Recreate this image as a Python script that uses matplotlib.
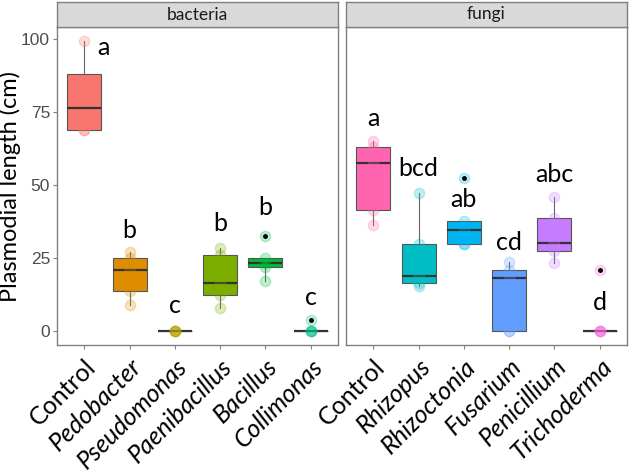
import numpy as np
import matplotlib.pyplot as plt

# values (cm)
bact_names = ["Control", "Pedobacter", "Pseudomonas", "Paenibacillus", "Bacillus", "Collimonas"]
bact_values = [
    [68.7, 68.7, 84.0, 99.0],
    [8.9, 13.7, 20.8, 24.9, 27.0],
    [0, 0, 0, 0, 0],
    [7.8, 12.2, 16.4, 25.7, 28.3],
    [17.1, 21.6, 23.0, 25.0, 32.5],
    [0, 0, 0, 0, 3.6],
]
bact_letters = ["a", "b", "c", "b", "b", "c"]
bact_letter_y = [97, 34.2, 8.6, 36.6, 42.0, 11.4]
bact_colors = ["#F8766D", "#DE8C00", "#B79F00", "#7CAE00", "#00BA38", "#00C08B"]

fungi_names = ["Control", "Rhizopus", "Rhizoctonia", "Fusarium", "Penicillium", "Trichoderma"]
fungi_values = [
    [36.0, 41.3, 57.3, 63.0, 65.0],
    [15.2, 16.3, 18.6, 29.7, 47.0],
    [29.5, 29.5, 34.6, 37.4, 52.2],
    [0, 0, 17.9, 20.8, 23.5],
    [23.2, 27.4, 29.9, 38.5, 45.9],
    [0, 0, 0, 0, 20.8],
]
fungi_letters = ["a", "bcd", "ab", "cd", "abc", "d"]
fungi_letter_y = [72.6, 55.4, 44.8, 30.2, 53.4, 9.6]
fungi_colors = ["#FF64B0", "#00BFC4", "#00B4F0", "#619CFF", "#C77CFF", "#F564E3"]

W, H = 629, 476
fig = plt.figure(figsize=(W / 100, H / 100), dpi=100)

panels = [
    ("bacteria", bact_names, bact_values, bact_letters, bact_letter_y, bact_colors, 57, 338),
    ("fungi", fungi_names, fungi_values, fungi_letters, fungi_letter_y, fungi_colors, 346, 627),
]

top_px, bot_px, strip_px = 27, 345, 2
for k, (title, names, values, letters, ly, cols, x0, x1) in enumerate(panels):
    ax = fig.add_axes([x0 / W, 1 - bot_px / H, (x1 - x0) / W, (bot_px - top_px) / H])
    pos = np.arange(1, len(names) + 1)
    bp = ax.boxplot(values, positions=pos, widths=0.75, patch_artist=True, whis=1.5,
                    showcaps=False,
                    flierprops=dict(marker="o", markerfacecolor="black", markeredgecolor="black",
                                    markersize=2.5, zorder=4),
                    medianprops=dict(color="#333333", linewidth=1.6),
                    boxprops=dict(edgecolor="#555555", linewidth=0.8),
                    whiskerprops=dict(color="#666666", linewidth=0.8))
    for patch, c in zip(bp["boxes"], cols):
        patch.set_facecolor(c)
    for i, (v, c) in enumerate(zip(values, cols)):
        ax.scatter(np.full(len(v), pos[i]), v, s=55, facecolor=c, edgecolor=c,
                   alpha=0.25, linewidth=1.0, zorder=3)
    for i, (t, y) in enumerate(zip(letters, ly)):
        if k == 0 and i == 0:
            ax.text(pos[i] + 0.28, y, t, ha="left", va="center", fontsize=18, family="Lato")
        else:
            ax.text(pos[i], y, t, ha="center", va="center", fontsize=18, family="Lato")

    ax.set_xlim(0.4, 6.6)
    ax.set_ylim(-4.95, 103.95)
    ax.set_xticks(pos)
    ax.set_xticklabels(names, rotation=45, ha="right", rotation_mode="anchor",
                       fontsize=18, family="Lato")
    for lab in ax.get_xticklabels()[1:]:
        lab.set_style("italic")
    ax.tick_params(axis="x", length=3, color="#808080", pad=4)
    if k == 0:
        ax.set_yticks([0, 25, 50, 75, 100])
        ax.tick_params(axis="y", length=3, color="#808080", labelcolor="#4D4D4D",
                       labelsize=12.5, pad=2)
        for lab in ax.get_yticklabels():
            lab.set_family("Liberation Sans")
        ax.set_ylabel("Plasmodial length (cm)", fontsize=17, family="Lato")
        ax.yaxis.set_label_coords(-0.128, 0.5)
    else:
        ax.set_yticks([])
    for s in ax.spines.values():
        s.set_color("#808080")
        s.set_linewidth(1.0)

    sax = fig.add_axes([x0 / W, 1 - top_px / H, (x1 - x0) / W, (top_px - strip_px) / H])
    sax.set_facecolor("#D9D9D9")
    sax.set_xticks([])
    sax.set_yticks([])
    for s in sax.spines.values():
        s.set_color("#808080")
        s.set_linewidth(1.0)
    sax.text(0.5, 0.5, title, ha="center", va="center", fontsize=12.5, family="Lato",
             color="#1A1A1A", transform=sax.transAxes)

fig.savefig("out.png", dpi=100)
